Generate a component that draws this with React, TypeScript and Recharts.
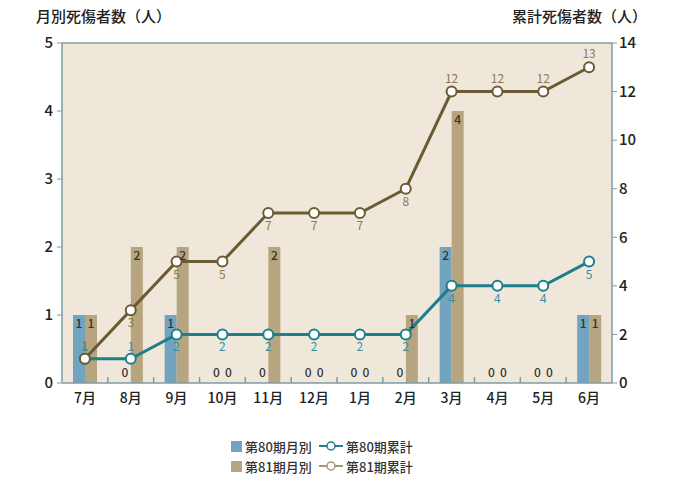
import React from 'react';
import { Bar, Cell, ComposedChart, Line, ReferenceLine, XAxis, YAxis } from 'recharts';

const months = ['7月', '8月', '9月', '10月', '11月', '12月', '1月', '2月', '3月', '4月', '5月', '6月'];
const monthly80 = [1, 0, 1, 0, 0, 0, 0, 0, 2, 0, 0, 1];
const monthly81 = [1, 2, 2, 0, 2, 0, 0, 1, 4, 0, 0, 1];
const total80 = [1, 1, 2, 2, 2, 2, 2, 2, 4, 4, 4, 5];
const total81 = [1, 3, 5, 5, 7, 7, 7, 8, 12, 12, 12, 13];
const leftTicks = [0, 1, 2, 3, 4, 5];
const rightTicks = [0, 2, 4, 6, 8, 10, 12, 14];

const data = months.map((m, i) => ({
  month: m,
  m80: monthly80[i],
  m81: monthly81[i],
  t80: total80[i],
  t81: total81[i],
}));

const FONT = '"Noto Sans CJK JP", "Noto Sans", sans-serif';
const BLUE = '#72a3bf';
const TAN = '#b6a57f';
const TEAL = '#1f7d8c';
const OLIVE = '#6b5b35';
const AXIS = '#7f9ba6';
const PLOT = { left: 62, top: 43, right: 20, bottom: 67, xAxisH: 30, rightW: 45 };
const plotW = 677 - PLOT.left - PLOT.right - PLOT.rightW;
const plotH = 480 - PLOT.top - PLOT.bottom - PLOT.xAxisH;

const barLabel = (props: any) => {
  const { x, y, width, value } = props;
  const cx = x + width / 2;
  const ty = value === 0 ? y - 5 : y + 13;
  return (
    <text x={cx} y={ty} textAnchor="middle" fontSize={12} fontWeight={500} fill="#333" fontFamily={FONT}>
      {value}
    </text>
  );
};

const label80 = (props: any) => {
  const { x, y, value } = props;
  const ty = value === 1 ? y - 8 : y + 17;
  return (
    <text x={x} y={ty} textAnchor="middle" fontSize={12} fill="#3a8ea0" fontFamily={FONT}>
      {value}
    </text>
  );
};

const label81 = (props: any) => {
  const { x, y, value } = props;
  const ty = value === 1 || value >= 12 ? y - 9 : y + 17;
  return (
    <text x={x} y={ty} textAnchor="middle" fontSize={12} fill="#8c7a52" fontFamily={FONT}>
      {value}
    </text>
  );
};

// month label plus a short upward tick on the boundary to its right
const monthTick = (props: any) => {
  const { x, y, payload, index } = props;
  const half = plotW / months.length / 2;
  const i = typeof index === 'number' ? index : payload.index;
  const last = i === months.length - 1;
  const bx = Number(x) + half;
  const by = Number(y);
  return (
    <g>
      {!last && <rect x={bx - 0.75} y={by - 6} width={1.5} height={6} fill={AXIS} />}
      <text x={x} y={by + 20} textAnchor="middle" fontSize={14} fontWeight={500} fill="#222" fontFamily={FONT}>
        {payload.value}
      </text>
    </g>
  );
};

const LegendBox = () => {
  const item = (icon: React.ReactNode, text: string) => (
    <div style={{ display: 'flex', alignItems: 'center', height: 20 }}>
      {icon}
      <span style={{ marginLeft: 3 }}>{text}</span>
    </div>
  );
  const square = (c: string) => <span style={{ width: 11, height: 11, background: c, display: 'inline-block' }} />;
  const lineIcon = (c: string) => (
    <svg width={24} height={12}>
      <line x1={0} y1={6} x2={24} y2={6} stroke={c} strokeWidth={2} />
      <circle cx={12} cy={6} r={4} fill="#fff" stroke={c} strokeWidth={1.5} />
    </svg>
  );
  return (
    <div
      style={{
        position: 'absolute',
        left: 231,
        top: 436,
        display: 'grid',
        gridTemplateColumns: '88px 120px',
        fontSize: 13,
        fontWeight: 500,
        fontFamily: FONT,
        color: '#333',
      }}
    >
      {item(square(BLUE), '第80期月別')}
      {item(lineIcon(TEAL), '第80期累計')}
      {item(square(TAN), '第81期月別')}
      {item(lineIcon('#a89870'), '第81期累計')}
    </div>
  );
};

export default function App() {
  return (
    <div style={{ position: 'absolute', left: 0, top: 0, width: 677, height: 480, background: '#fff', fontFamily: FONT }}>
      <div style={{ position: 'absolute', left: PLOT.left, top: PLOT.top, width: plotW, height: plotH, background: '#efe8da' }} />
      <div style={{ position: 'absolute', left: 36, top: 5, fontSize: 15, fontWeight: 500, color: '#222' }}>月別死傷者数（人）</div>
      <div style={{ position: 'absolute', right: 30, top: 5, fontSize: 15, fontWeight: 500, color: '#222' }}>累計死傷者数（人）</div>
      <div style={{ position: 'absolute', left: 0, top: 0 }}>
        <ComposedChart
          width={677}
          height={480}
          data={data}
          margin={{ top: PLOT.top, right: PLOT.right, left: 0, bottom: PLOT.bottom }}
          barGap={0}
          barSize={12}
        >
          <XAxis
            dataKey="month"
            height={PLOT.xAxisH}
            tickLine={false}
            tickSize={0}
            tickMargin={0}
            axisLine={{ stroke: AXIS, strokeWidth: 1.5 }}
            tick={monthTick}
            interval={0}
          />
          <YAxis
            yAxisId="left"
            domain={[0, 5]}
            ticks={leftTicks}
            width={PLOT.left}
            axisLine={{ stroke: AXIS, strokeWidth: 1.5 }}
            tickLine={{ stroke: AXIS }}
            tickSize={5}
            tick={{ fill: '#222', fontSize: 15, fontWeight: 500, fontFamily: FONT }}
            tickMargin={4}
          />
          <YAxis
            yAxisId="right"
            orientation="right"
            domain={[0, 14]}
            ticks={rightTicks}
            width={PLOT.rightW}
            axisLine={{ stroke: AXIS, strokeWidth: 1.5 }}
            tickLine={{ stroke: AXIS }}
            tickSize={5}
            tick={{ fill: '#222', fontSize: 15, fontWeight: 500, fontFamily: FONT }}
            tickMargin={2}
          />
          <ReferenceLine yAxisId="left" y={5} stroke="#8a9aa0" strokeWidth={1.5} />
          <Bar yAxisId="left" dataKey="m80" fill={BLUE} minPointSize={1} isAnimationActive={false} label={barLabel}>
            {monthly80.map((v, i) => (
              <Cell key={i} fill={v === 0 ? 'transparent' : BLUE} />
            ))}
          </Bar>
          <Bar yAxisId="left" dataKey="m81" fill={TAN} minPointSize={1} isAnimationActive={false} label={barLabel}>
            {monthly81.map((v, i) => (
              <Cell key={i} fill={v === 0 ? 'transparent' : TAN} />
            ))}
          </Bar>
          <Line
            yAxisId="right"
            dataKey="t80"
            stroke={TEAL}
            strokeWidth={3}
            dot={{ r: 5, fill: '#fff', stroke: TEAL, strokeWidth: 2 }}
            isAnimationActive={false}
            label={label80}
          />
          <Line
            yAxisId="right"
            dataKey="t81"
            stroke={OLIVE}
            strokeWidth={3}
            dot={{ r: 5, fill: '#fff', stroke: OLIVE, strokeWidth: 2 }}
            isAnimationActive={false}
            label={label81}
          />
        </ComposedChart>
      </div>
      <LegendBox />
    </div>
  );
}
